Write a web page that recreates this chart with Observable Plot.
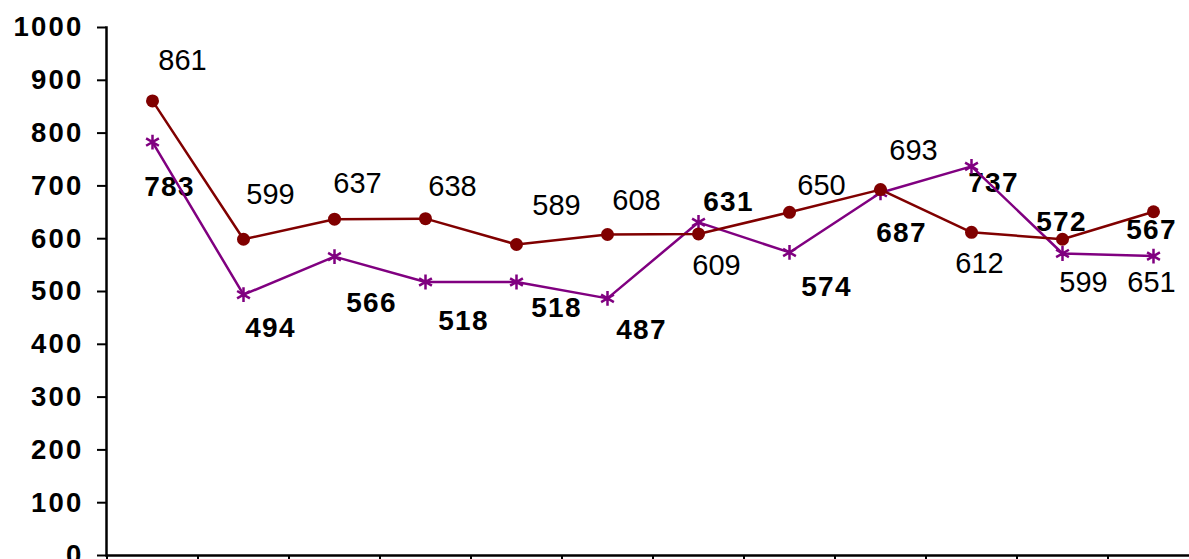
<!DOCTYPE html>
<html>
<head>
<meta charset="utf-8">
<script src="https://cdn.jsdelivr.net/npm/d3@7"></script>
<script src="https://cdn.jsdelivr.net/npm/@observablehq/plot@0.6"></script>
<style>
  html, body { margin: 0; padding: 0; background: #fff; }
  #chart svg { display: block; font-family: "Liberation Sans", Arial, sans-serif; }
  #chart g[aria-label="y-axis tick label"] text { letter-spacing: 2.2px; }
  .purple-label text { letter-spacing: 1.2px; }
</style>
</head>
<body>
<div id="chart"></div>
<script>
// ---- data ----
const categories = ["1", "2", "3", "4", "5", "6", "7", "8", "9", "10", "11", "12"];
const redValues = [861, 599, 637, 638, 589, 608, 609, 650, 693, 612, 599, 651];
const purpleValues = [783, 494, 566, 518, 518, 487, 631, 574, 687, 737, 572, 567];
const yTicks = [0, 100, 200, 300, 400, 500, 600, 700, 800, 900, 1000];

// ---- label placement offsets (px, relative to each point) ----
const redLabelDx = [30, 27, 23, 27, 40, 29, 18, 32, 33, 8, 21, -2];
const redLabelDy = [-40, -45, -35, -32, -39, -34, 32, -27, -39, 31, 43, 71];
const purpleLabelDx = [17, 27, 37, 38, 40, 34, 30, 37, 21, 22, -1, -2];
const purpleLabelDy = [45, 33, 46, 39, 26, 32, -20, 35, 40, 17, -31, -26];

const RED = "#800000";
const PURPLE = "#800080";

const idx = d3.range(categories.length);

const labelMarks = [];
for (const i of idx) {
  labelMarks.push(Plot.text([i], {
    x: (j) => categories[j], y: (j) => redValues[j], text: (j) => String(redValues[j]),
    dx: redLabelDx[i], dy: redLabelDy[i], fontSize: 29, fill: "black"
  }));
  labelMarks.push(Plot.text([i], {
    x: (j) => categories[j], y: (j) => purpleValues[j], text: (j) => String(purpleValues[j]),
    dx: purpleLabelDx[i], dy: purpleLabelDy[i], fontSize: 28, fontWeight: "bold", fill: "black",
    className: "purple-label"
  }));
}

const chart = Plot.plot({
  width: 1189,
  height: 559,
  marginLeft: 106,
  marginRight: 0,
  marginTop: 27,
  marginBottom: 4,
  style: { fontFamily: "'Liberation Sans', Arial, sans-serif", background: "#fff" },
  x: { type: "point", domain: categories, range: [106, 1198], padding: 0.5 },
  y: { domain: [0, 1000], range: [555, 27] },
  marks: [
    ...labelMarks,
    Plot.axisY({
      ticks: yTicks, tickFormat: (d) => String(d), tickSize: 9, tickPadding: 14, fontSize: 27.5, fontWeight: "bold",
      stroke: "black", strokeWidth: 2, fill: "black", label: null
    }),
    Plot.axisX({
      tickSize: 10, tickFormat: () => "", dx: -45.5, stroke: "black", strokeWidth: 2, label: null
    }),
    Plot.frame({ anchor: "left", stroke: "black", strokeWidth: 2.5 }),
    Plot.ruleY([0], { stroke: "black", strokeWidth: 2.5 }),
    Plot.line(idx, { x: (i) => categories[i], y: (i) => purpleValues[i], stroke: PURPLE, strokeWidth: 2.5 }),
    Plot.dot(idx, { x: (i) => categories[i], y: (i) => purpleValues[i], symbol: "asterisk", r: 7, stroke: PURPLE, strokeWidth: 2.5 }),
    Plot.line(idx, { x: (i) => categories[i], y: (i) => redValues[i], stroke: RED, strokeWidth: 2.5 }),
    Plot.dot(idx, { x: (i) => categories[i], y: (i) => redValues[i], r: 6.5, fill: RED, stroke: "none" })
  ]
});
document.getElementById("chart").appendChild(chart);
</script>
</body>
</html>
